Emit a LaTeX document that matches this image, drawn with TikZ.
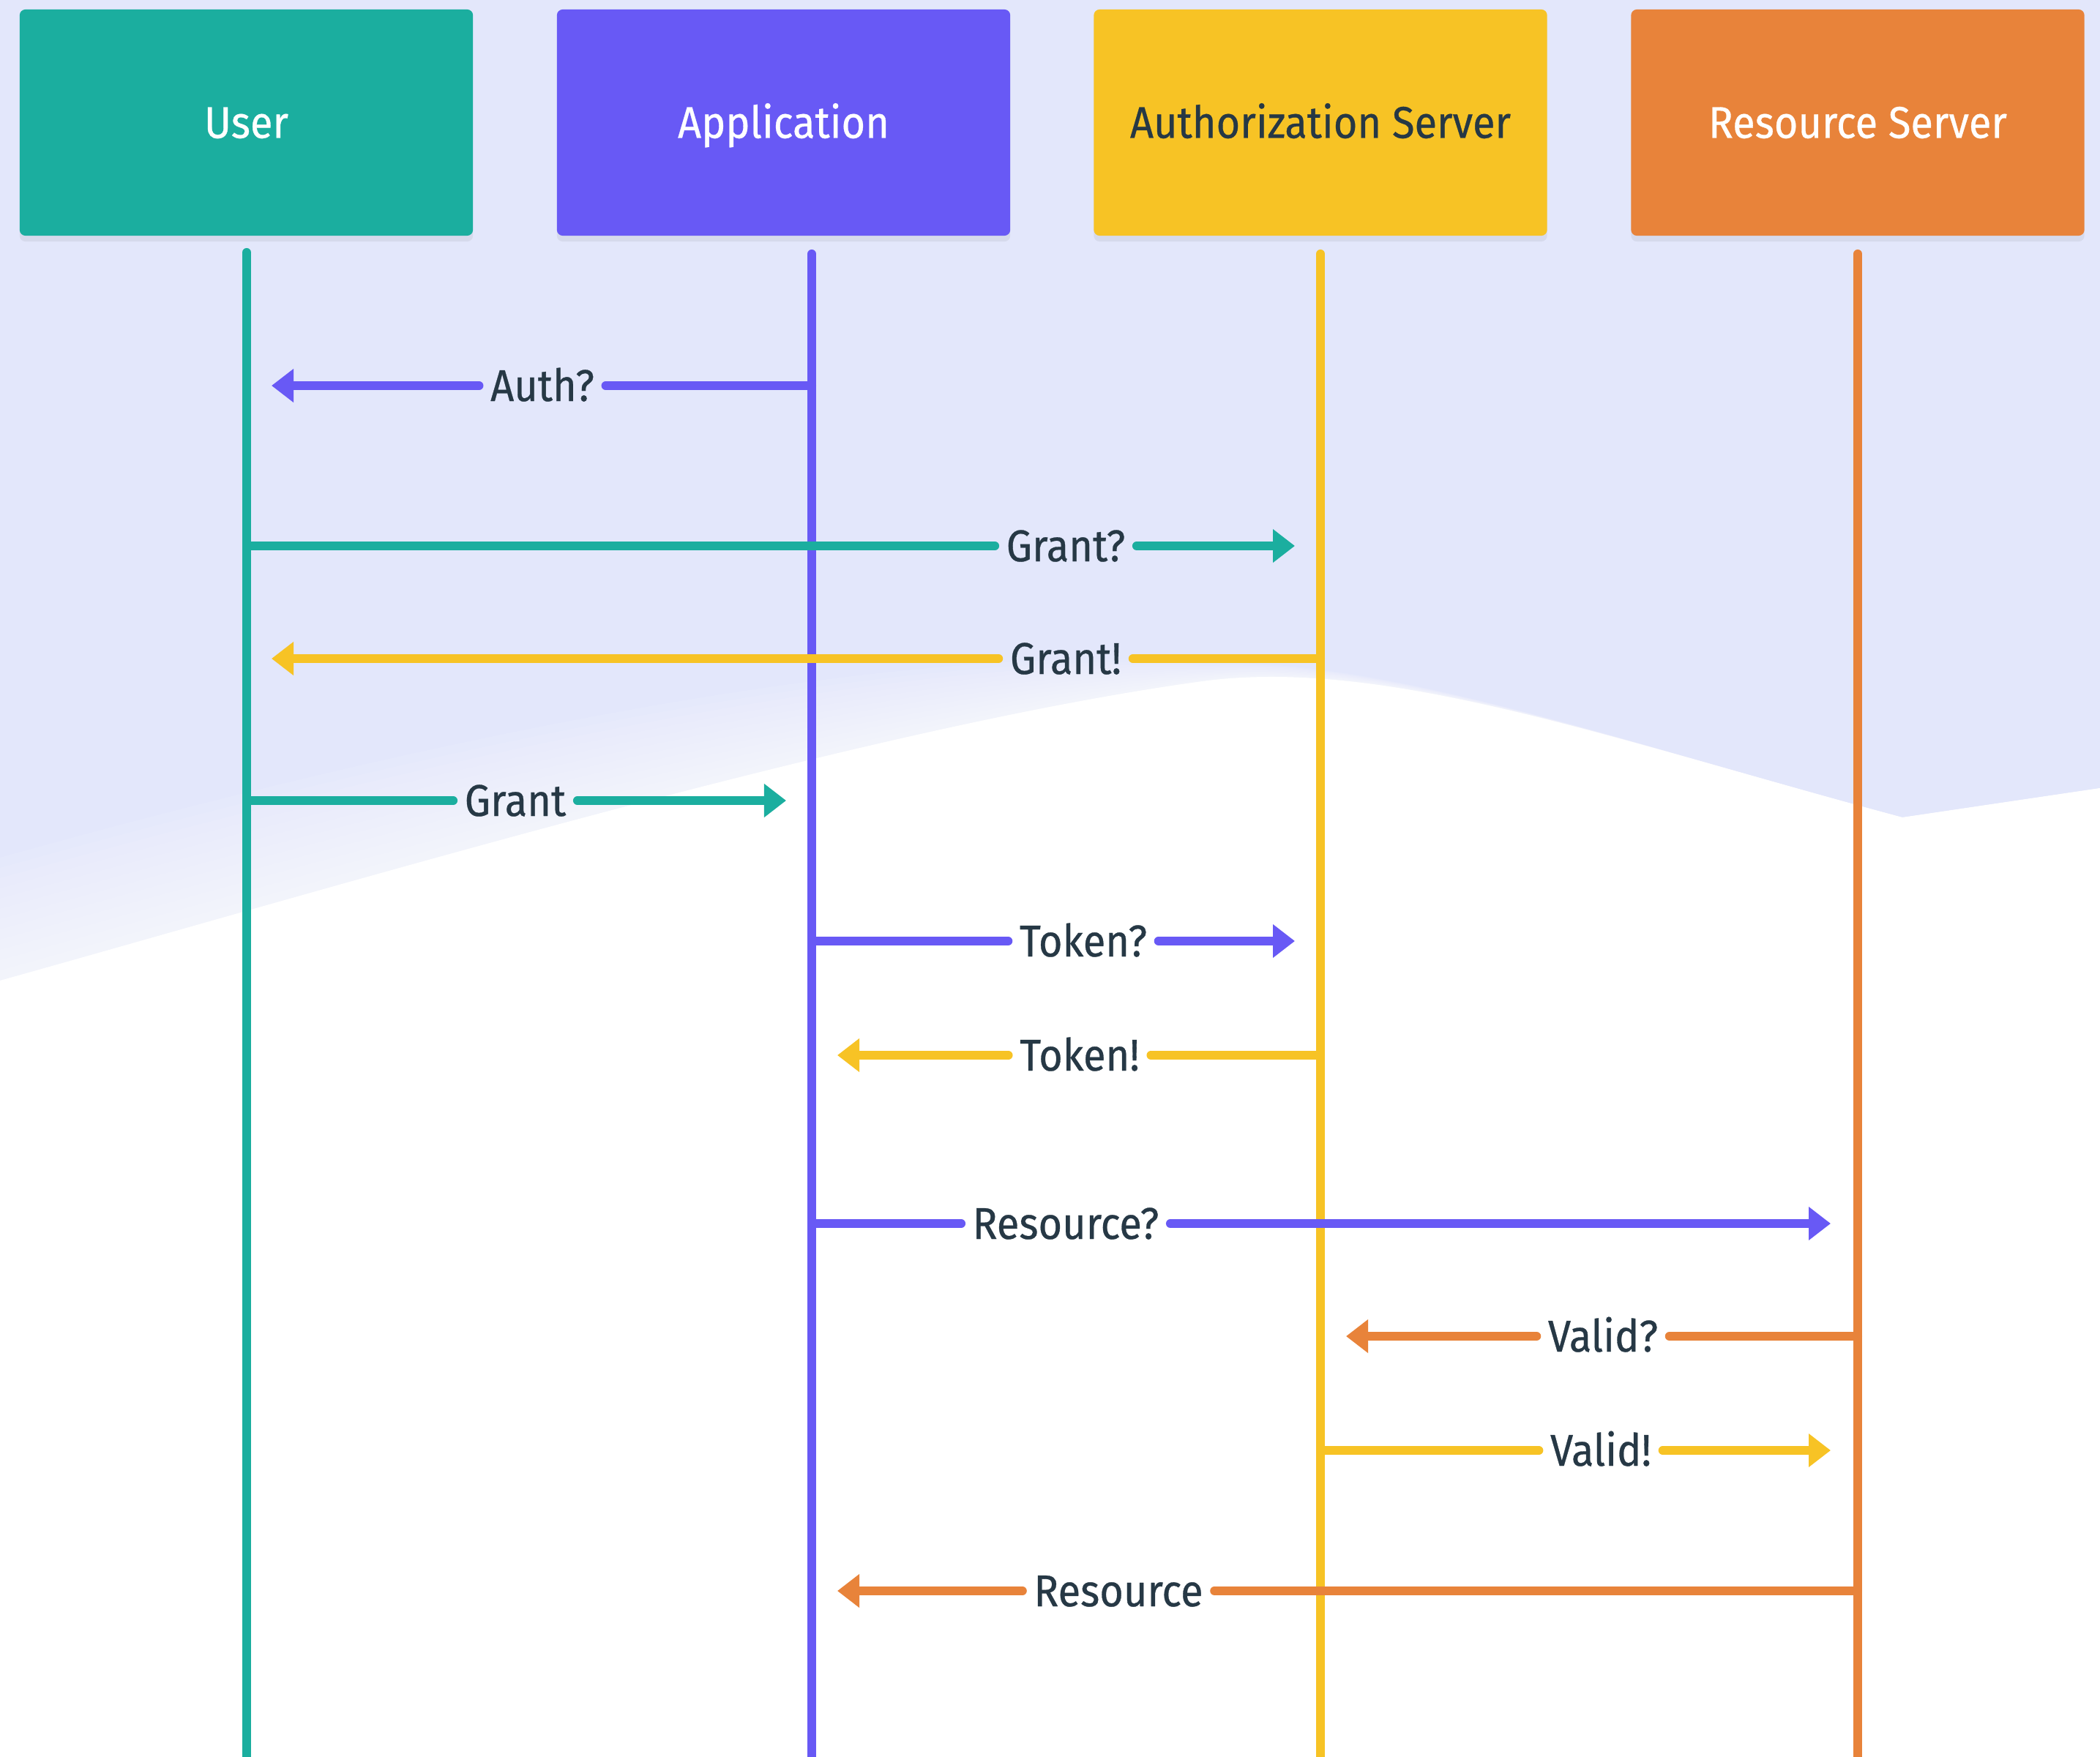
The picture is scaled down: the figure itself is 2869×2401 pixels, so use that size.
\documentclass[tikz,border=0pt]{standalone}
\usepackage{fontspec}
\setmainfont{Fira Sans}[FakeStretch=0.92,FakeBold=0.5]
\usetikzlibrary{arrows.meta,shadows}
\definecolor{cteal}{HTML}{1BAE9F}
\definecolor{cpurple}{HTML}{6859F5}
\definecolor{cyellow}{HTML}{F7C325}
\definecolor{corange}{HTML}{E8833A}
\definecolor{ctext}{HTML}{263845}
\definecolor{clav}{HTML}{E3E7FB}
\begin{document}
\begin{tikzpicture}[x=0.01cm,y=-0.01cm,
  hdr/.style={rounded corners=0.08cm, minimum width=6.19cm, minimum height=3.09cm, inner sep=0pt,
    text height=0.42cm, text depth=0cm, font=\fontsize{17.3}{20}\selectfont,
    drop shadow={opacity=0.12,shadow xshift=0cm,shadow yshift=-0.08cm}},
  lbl/.style={font=\fontsize{17.3}{20}\selectfont, text=ctext, inner xsep=0.15cm, inner ysep=0pt,
    text height=0.42cm, text depth=0cm},
  life/.style={line width=0.12cm, line cap=round},
  msg/.style={line width=0.12cm, line cap=round},
  tipped/.style={-{Triangle[length=0.3cm,width=0.44cm]}},
]
\useasboundingbox (0,0) rectangle (2869,2401);
% background
\fill[clav] (0,0) rectangle (2869,2401);
\foreach \k in {12,11,...,1} {
  \fill[white, opacity=0.09] (0,2401) -- (0,{1340-14*\k}) .. controls (500,{1200-14*\k}) and (1200,{990-10*\k}) .. (1650,{930-2*\k})
    .. controls (1900,900) and (2200,1010) .. (2599,1117) -- (2869,1077) -- (2869,2401) -- cycle;
}
\fill[white] (0,2401) -- (0,1340) .. controls (500,1200) and (1200,990) .. (1650,930)
    .. controls (1900,900) and (2200,1010) .. (2599,1117) -- (2869,1077) -- (2869,2401) -- cycle;

% headers
\node[hdr, fill=cteal, text=white] (user) at (336.5,167.5) {User};
\node[hdr, fill=cpurple, text=white] (app) at (1070.5,167.5) {Application};
\node[hdr, fill=cyellow, text=ctext] (auth) at (1804,167.5) {Authorization Server};
\node[hdr, fill=corange, text=white] (res) at (2538,167.5) {Resource Server};

% lifelines
\coordinate (uT) at (337,345);  \coordinate (uB) at (337,2430);
\coordinate (aT) at (1109,347); \coordinate (aB) at (1109,2430);
\coordinate (zT) at (1804,347); \coordinate (zB) at (1804,2430);
\coordinate (rT) at (2538,347); \coordinate (rB) at (2538,2430);
\draw[life, cteal] (uT) -- (uB);
\draw[life, cpurple] (aT) -- (aB);
\draw[life, cyellow] (zT) -- (zB);
\draw[life, corange] (rT) -- (rB);

% messages
\node[lbl] (m1) at (741,527) {Auth?};
\coordinate (t1) at (371,527);
\draw[msg, cpurple] (m1 -| aT) -- (m1.east);
\draw[msg, cpurple, tipped] (m1.west) -- (t1);

\node[lbl] (m2) at (1456,746) {Grant?};
\coordinate (t2) at (1769,746);
\draw[msg, cteal] (m2 -| uT) -- (m2.west);
\draw[msg, cteal, tipped] (m2.east) -- (t2);

\node[lbl] (m3) at (1456,900) {Grant!};
\coordinate (t3) at (371,900);
\draw[msg, cyellow] (m3 -| zT) -- (m3.east);
\draw[msg, cyellow, tipped] (m3.west) -- (t3);

\node[lbl] (m4) at (704,1094) {Grant};
\coordinate (t4) at (1074,1094);
\draw[msg, cteal] (m4 -| uT) -- (m4.west);
\draw[msg, cteal, tipped] (m4.east) -- (t4);

\node[lbl] (m5) at (1480,1286) {Token?};
\coordinate (t5) at (1769,1286);
\draw[msg, cpurple] (m5 -| aT) -- (m5.west);
\draw[msg, cpurple, tipped] (m5.east) -- (t5);

\node[lbl] (m6) at (1475,1442) {Token!};
\coordinate (t6) at (1144,1442);
\draw[msg, cyellow] (m6 -| zT) -- (m6.east);
\draw[msg, cyellow, tipped] (m6.west) -- (t6);

\node[lbl] (m7) at (1456,1672) {Resource?};
\coordinate (t7) at (2501,1672);
\draw[msg, cpurple] (m7 -| aT) -- (m7.west);
\draw[msg, cpurple, tipped] (m7.east) -- (t7);

\node[lbl] (m8) at (2190,1826) {Valid?};
\coordinate (t8) at (1839,1826);
\draw[msg, corange] (m8 -| rT) -- (m8.east);
\draw[msg, corange, tipped] (m8.west) -- (t8);

\node[lbl] (m9) at (2187,1982) {Valid!};
\coordinate (t9) at (2501,1982);
\draw[msg, cyellow] (m9 -| zT) -- (m9.west);
\draw[msg, cyellow, tipped] (m9.east) -- (t9);

\node[lbl] (m10) at (1528,2174) {Resource};
\coordinate (t10) at (1144,2174);
\draw[msg, corange] (m10 -| rT) -- (m10.east);
\draw[msg, corange, tipped] (m10.west) -- (t10);
\end{tikzpicture}
\end{document}
